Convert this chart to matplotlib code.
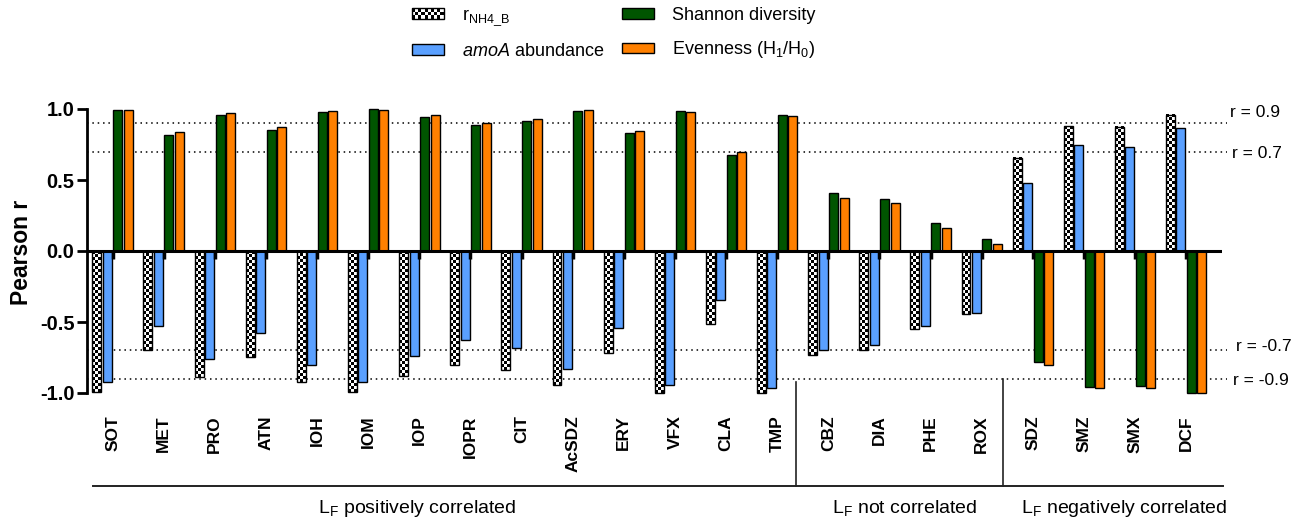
import numpy as np
import matplotlib
matplotlib.use("Agg")
import matplotlib.pyplot as plt
from matplotlib.patches import Patch, Rectangle
from matplotlib.legend_handler import HandlerBase

plt.rcParams["font.family"] = ["Liberation Sans", "DejaVu Sans"]
plt.rcParams["mathtext.fontset"] = "custom"
plt.rcParams["mathtext.rm"] = "Liberation Sans"
plt.rcParams["mathtext.it"] = "Liberation Sans:italic"
plt.rcParams["mathtext.bf"] = "Liberation Sans:bold"

categories = ["SOT", "MET", "PRO", "ATN", "IOH", "IOM", "IOP", "IOPR", "CIT", "AcSDZ", "ERY",
              "VFX", "CLA", "TMP", "CBZ", "DIA", "PHE", "ROX", "SDZ", "SMZ", "SMX", "DCF"]

r_nh4 = [-0.99, -0.70, -0.89, -0.745, -0.925, -0.99, -0.88, -0.80, -0.835, -0.945, -0.72,
         -1.0, -0.515, -1.0, -0.73, -0.695, -0.55, -0.445, 0.655, 0.88, 0.875, 0.96]
amoa = [-0.92, -0.53, -0.76, -0.575, -0.80, -0.92, -0.74, -0.63, -0.68, -0.83, -0.545,
        -0.945, -0.345, -0.965, -0.695, -0.66, -0.525, -0.435, 0.48, 0.745, 0.735, 0.865]
shannon = [0.995, 0.82, 0.955, 0.85, 0.977, 0.998, 0.946, 0.884, 0.913, 0.986, 0.83,
           0.986, 0.674, 0.957, 0.41, 0.367, 0.199, 0.085, -0.785, -0.955, -0.95, -0.998]
evenness = [0.995, 0.84, 0.97, 0.87, 0.986, 0.995, 0.957, 0.90, 0.927, 0.993, 0.846,
            0.98, 0.70, 0.948, 0.376, 0.336, 0.163, 0.052, -0.806, -0.967, -0.962, -1.0]

ref_levels = [0.9, 0.7, -0.7, -0.9]
ref_labels = ["r = 0.9", "r = 0.7", "r = -0.7", "r = -0.9"]
yticks = [-1.0, -0.5, 0.0, 0.5, 1.0]
ytick_labels = ["-1.0", "-0.5", "0.0", "0.5", "1.0"]

groups = [r"L$_\mathregular{F}$ positively correlated",
          r"L$_\mathregular{F}$ not correlated",
          r"L$_\mathregular{F}$ negatively correlated"]

GREEN = "#005500"
BLUE = "#5aa0ff"
ORANGE = "#ff8000"


class CheckerHandler(HandlerBase):
    """Legend key drawn as a small black/white checkerboard."""
    def create_artists(self, legend, orig_handle, xdescent, ydescent, width, height, fontsize, trans):
        ncol, nrow = 10, 3
        cw, ch = width / ncol, height / nrow
        arts = []
        for i in range(nrow):
            for j in range(ncol):
                if (i + j) % 2 == 0:
                    arts.append(Rectangle((-xdescent + j * cw, -ydescent + i * ch), cw, ch,
                                          facecolor="black", edgecolor="none", transform=trans))
        arts.append(Rectangle((-xdescent, -ydescent), width, height, facecolor="none",
                              edgecolor="black", lw=1, transform=trans))
        return arts


W, H = 1309, 525
fig = plt.figure(figsize=(W / 100, H / 100), dpi=100)
ax = fig.add_axes([87 / W, (H - 393) / H, (1222 - 87) / W, (393 - 109) / H])

x = np.arange(len(categories))
step = 0.205
bw = 0.175
px_per_unit = 142.0

# checkerboard bars
for xi, v in zip(x, r_nh4):
    x0 = xi - 1.5 * step - bw / 2
    nrows = max(int(round(abs(v) * px_per_unit / 3)), 1)
    cells = (np.indices((nrows, 3)).sum(axis=0) % 2).astype(float)
    ax.imshow(cells, cmap="gray", interpolation="nearest", aspect="auto",
              extent=(x0, x0 + bw, min(0, v), max(0, v)), zorder=2, clip_on=False)
ax.bar(x - 1.5 * step, r_nh4, bw, facecolor="none", edgecolor="black", lw=1, zorder=3, clip_on=False)
ax.bar(x - 0.5 * step, amoa, bw, color=BLUE, edgecolor="black", lw=1, zorder=3, clip_on=False)
ax.bar(x + 0.5 * step, shannon, bw, color=GREEN, edgecolor="black", lw=1, zorder=3, clip_on=False)
ax.bar(x + 1.5 * step, evenness, bw, color=ORANGE, edgecolor="black", lw=1, zorder=3, clip_on=False)

ax.set_xlim(-0.5, 21.7)
ax.set_ylim(-1.0, 1.0)

# zero line with short ticks under it
ax.axhline(0, color="black", lw=2.2, zorder=4)
ax.plot(x, np.zeros(len(x)), ls="none", marker=3, markersize=6, mew=2.5, color="black", zorder=4)

# reference correlation levels
ax.hlines(ref_levels, -0.5, 21.8, colors="black", linestyles=(0, (1, 2.5)), lw=1.1,
          zorder=1, clip_on=False)
label_pos = [(21.86, 0.975), (21.9, 0.69), (21.97, -0.675), (21.92, -0.915)]
for (lx, ly), txt in zip(label_pos, ref_labels):
    ax.text(lx, ly, txt, fontsize=12.5, ha="left", va="center", clip_on=False)

for s in ["top", "right", "bottom"]:
    ax.spines[s].set_visible(False)
ax.spines["left"].set_linewidth(2)

ax.set_yticks(yticks, ytick_labels, fontsize=14.5, fontweight="bold")
ax.tick_params(axis="y", length=7, width=2, pad=2)
ax.set_xticks(x, categories, rotation=90, fontsize=12.5, fontweight="bold")
ax.tick_params(axis="x", length=0, pad=16)

fig.text(22 / W, 1 - 252 / H, "Pearson r", rotation=90, ha="center", va="center",
         fontsize=16.5, fontweight="bold")

# group brackets below the category names
ax.plot([-0.38, 21.72], [-1.655, -1.655], color="#222222", lw=1.4, clip_on=False)
ax.plot([13.36, 13.36], [-0.92, -1.655], color="#222222", lw=1.2, clip_on=False)
ax.plot([17.42, 17.42], [-0.9, -1.655], color="#222222", lw=1.2, clip_on=False)
for gx, gtxt in zip([5.95, 15.5, 19.78], groups):
    ax.text(gx, -1.81, gtxt, fontsize=14, ha="center", va="center", clip_on=False)

handles = [Patch(facecolor="white", edgecolor="black"),
           Patch(facecolor=BLUE, edgecolor="black"),
           Patch(facecolor=GREEN, edgecolor="black"),
           Patch(facecolor=ORANGE, edgecolor="black")]
labels = [r"r$_\mathregular{NH4\_B}$", r"$\mathit{amoA}$ abundance",
          "Shannon diversity", r"Evenness (H$_\mathregular{1}$/H$_\mathregular{0}$)"]
fig.legend(handles, labels, handler_map={handles[0]: CheckerHandler()}, ncol=2,
           loc="upper left", bbox_to_anchor=(412 / W, 1 - 7 / H), frameon=False,
           fontsize=13, handlelength=1.75, handleheight=0.55, handletextpad=1.0,
           columnspacing=1.0, labelspacing=0.85, borderpad=0, borderaxespad=0)

fig.savefig("out.png", dpi=100)
